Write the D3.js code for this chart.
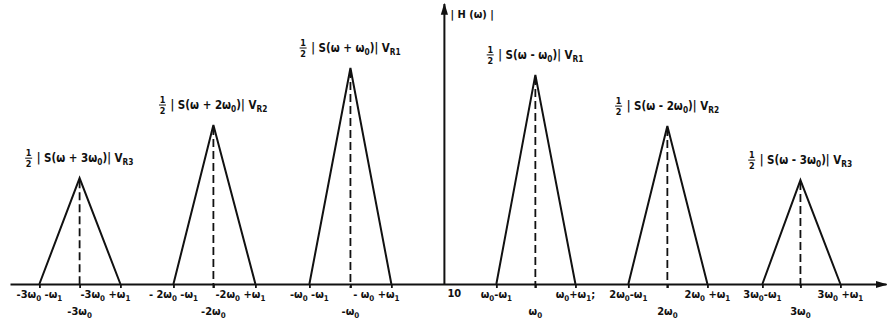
<!DOCTYPE html>
<html>
<head>
<meta charset="utf-8">
<script src="https://cdn.jsdelivr.net/npm/d3@7"></script>
<style>
  body { margin: 0; background: #fff; }
  svg { display: block; }
  text { font-family: "DejaVu Sans Condensed", "DejaVu Sans", sans-serif; font-weight: bold; fill: #111; }
</style>
</head>
<body>
<div id="chart"></div>
<script>
// Spectrum lines, in units of the drawing's omega axis (origin = 0)
const centers = [-3.04, -1.925, -0.783, 0.758, 1.858, 2.967];
const lefts   = [-3.375, -2.258, -1.125, 0.433, 1.533, 2.65];
const rights  = [-2.7, -1.575, -0.442, 1.092, 2.192, 3.3];
const peaks   = [0.49, 0.736, 1.0, 0.968, 0.731, 0.481];

// Text labels ("_x" = subscript x)
const peakShift = ["+ 3ω_0", "+ 2ω_0", "+ ω_0", "- ω_0", "- 2ω_0", "- 3ω_0"];
const peakGain  = ["R3", "R2", "R1", "R1", "R2", "R3"];
const leftLabels   = ["-3ω_0 -ω_1", "- 2ω_0 -ω_1", "-ω_0 -ω_1", "ω_0-ω_1", "2ω_0-ω_1", "3ω_0-ω_1"];
const rightLabels  = ["-3ω_0 +ω_1", "-2ω_0 +ω_1", "- ω_0 +ω_1", "ω_0+ω_1;", "2ω_0 +ω_1", "3ω_0 +ω_1"];
const centerLabels = ["-3ω_0", "-2ω_0", "-ω_0", "ω_0", "2ω_0", "3ω_0"];

const width = 887, height = 324;
const svg = d3.select("#chart").append("svg")
  .attr("width", width)
  .attr("height", height);

const x = d3.scaleLinear().domain([-3.62, 3.68]).range([10, 886]);
const y = d3.scaleLinear().domain([0, 1]).range([284, 68]);

// write a string with _x subscripts into a text element
function rich(t, str, size) {
  const parts = str.split(/(_[0-9A-Z]+)/);
  let sub = false;
  parts.forEach(p => {
    if (!p) return;
    if (p[0] === "_") {
      t.append("tspan").attr("font-size", size * 0.72).attr("dy", size * 0.25).text(p.slice(1));
      sub = true;
    } else {
      const s = t.append("tspan").text(p);
      if (sub) { s.attr("dy", -size * 0.25); sub = false; }
    }
  });
}

// arrow marker
svg.append("defs").append("marker")
  .attr("id", "arrow")
  .attr("viewBox", "0 0 10 10")
  .attr("refX", 9).attr("refY", 5)
  .attr("markerWidth", 6).attr("markerHeight", 6)
  .attr("orient", "auto")
  .append("path")
  .attr("d", "M0,2 L10,5 L0,8 z")
  .attr("fill", "#111");

// Horizontal axis with ticks at triangle feet
const edges = lefts.concat(rights);
const edgeText = leftLabels.concat(rightLabels);
const axis = d3.axisBottom(x)
  .tickValues(edges.concat(centers))
  .tickSizeInner(4)
  .tickSizeOuter(0)
  .tickFormat(() => "");

const gx = svg.append("g")
  .attr("transform", `translate(0,${y(0)})`)
  .call(axis);
gx.select(".domain").attr("stroke", "#111").attr("stroke-width", 2)
  .attr("marker-end", "url(#arrow)");
gx.selectAll(".tick line").attr("stroke", "#111").attr("stroke-width", 1.8);

// Vertical axis
svg.append("line")
  .attr("x1", x(0)).attr("x2", x(0))
  .attr("y1", y(0)).attr("y2", 4)
  .attr("stroke", "#111").attr("stroke-width", 2)
  .attr("marker-end", "url(#arrow)");

svg.append("text")
  .attr("x", x(0) + 6).attr("y", 18)
  .attr("font-size", 11)
  .text("| H (ω) |");

svg.append("text")
  .attr("x", x(0) + 3).attr("y", 297)
  .attr("font-size", 11)
  .text("10");

// Triangles
const tri = d3.line().x(d => x(d[0])).y(d => y(d[1]));
const shapes = centers.map((c, i) => [[lefts[i], 0], [c, peaks[i]], [rights[i], 0]]);

svg.append("g").selectAll("path")
  .data(shapes)
  .join("path")
  .attr("d", tri)
  .attr("fill", "none")
  .attr("stroke", "#111")
  .attr("stroke-width", 2)
  .attr("stroke-linejoin", "miter");

// dashed centre lines
svg.append("g").selectAll("line")
  .data(centers)
  .join("line")
  .attr("x1", d => x(d)).attr("x2", d => x(d))
  .attr("y1", (d, i) => y(peaks[i]) + 2)
  .attr("y2", y(0) + 4)
  .attr("stroke", "#111")
  .attr("stroke-width", 1.8)
  .attr("stroke-dasharray", "8,4");

// tick labels, first row (hand lettering sits left of the +w1 ticks on the negative side)
svg.append("g").selectAll("text")
  .data(edges)
  .join("text")
  .attr("x", d => x(d))
  .attr("dx", (d, i) => (i >= 6 && d < 0) ? -15 : 0)
  .attr("y", 298)
  .attr("text-anchor", "middle")
  .attr("font-size", 11)
  .each(function(d, i) { rich(d3.select(this), edgeText[i], 11); });

// tick labels, second row
svg.append("g").selectAll("text")
  .data(centers)
  .join("text")
  .attr("x", d => x(d))
  .attr("y", 315)
  .attr("text-anchor", "middle")
  .attr("font-size", 11)
  .each(function(d, i) { rich(d3.select(this), centerLabels[i], 11); });

// peak labels: 1/2 |S(w ...)| V_R
const pl = svg.append("g").selectAll("g")
  .data(centers)
  .join("g")
  .attr("transform", (d, i) => `translate(${x(d)},${y(peaks[i]) - 20})`);

pl.each(function(d, i) {
  const g = d3.select(this);
  const t = g.append("text")
    .attr("x", 0).attr("y", 4)
    .attr("text-anchor", "start")
    .attr("font-size", 11.5);
  rich(t, `| S(ω ${peakShift[i]})| V_${peakGain[i]}`, 11.5);
  const w = t.node().getComputedTextLength() + 11;
  t.attr("x", -w / 2 + 11);
  const fx = -w / 2 + 3;
  g.append("text").attr("x", fx).attr("y", -2).attr("text-anchor", "middle")
    .attr("font-size", 9).text("1");
  g.append("line").attr("x1", fx - 3.5).attr("x2", fx + 3.5)
    .attr("y1", 0).attr("y2", 0)
    .attr("stroke", "#111").attr("stroke-width", 1);
  g.append("text").attr("x", fx).attr("y", 9).attr("text-anchor", "middle")
    .attr("font-size", 9).text("2");
});
</script>
</body>
</html>
